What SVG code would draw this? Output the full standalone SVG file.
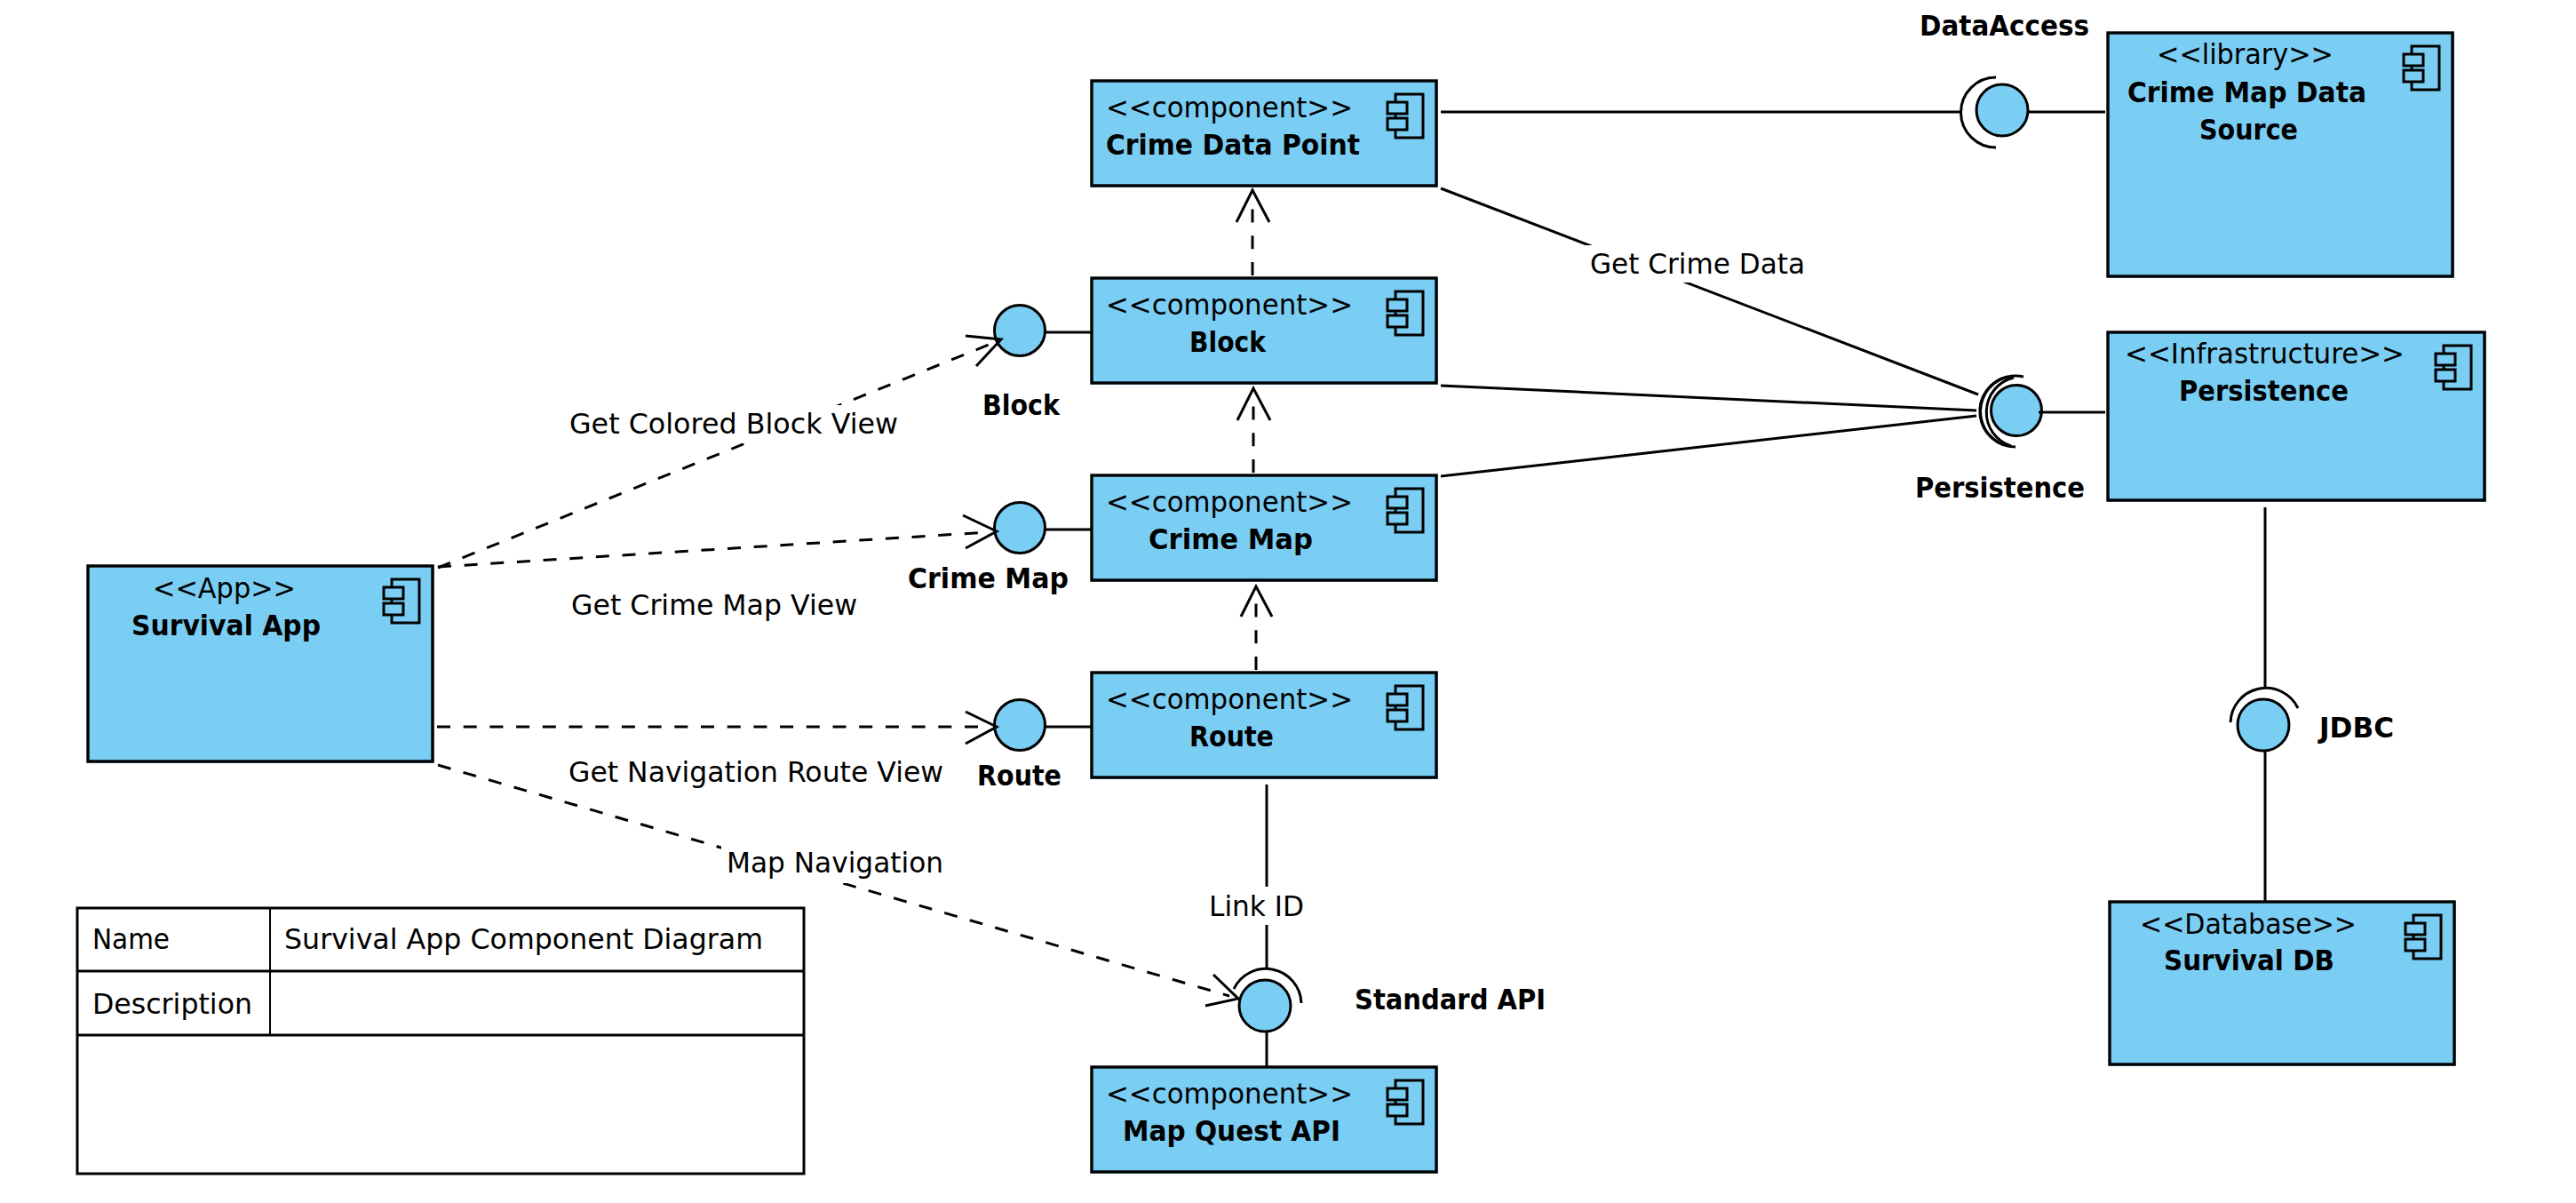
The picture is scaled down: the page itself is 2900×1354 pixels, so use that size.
<svg xmlns="http://www.w3.org/2000/svg" xmlns:xlink="http://www.w3.org/1999/xlink" width="2900" height="1354" viewBox="0 0 2900 1354">
<style>
text{font-family:"DejaVu Sans","Liberation Sans",sans-serif;font-size:32px;fill:#000}
.t{font-weight:bold;font-size:32px}
.f{fill:#7ACEF4;stroke:none}
.b{fill:none;stroke:#000;stroke-width:3.4}
.i{fill:#7ACEF4;stroke:#000;stroke-width:3}
.l{fill:none;stroke:#000;stroke-width:3}
.d{fill:none;stroke:#000;stroke-width:3;stroke-dasharray:15 14.7}
.w{fill:#fff;stroke:none}
</style>
<defs>
<g id="icon"><rect class="i" x="9" y="0" width="31" height="49"/><rect class="i" x="0" y="9" width="22" height="13"/><rect class="i" x="0" y="27" width="22" height="13"/></g>
</defs>
<rect width="2900" height="1354" fill="#fff"/>
<g id="survival-app">
<rect class="f" x="98" y="636" width="391" height="223"/><rect class="b" x="99" y="637" width="388" height="220"/>
<use xlink:href="#icon" href="#icon" x="432" y="652"/>
<text x="172" y="673" textLength="161" lengthAdjust="spacingAndGlyphs">&lt;&lt;App&gt;&gt;</text>
<text class="t" x="148" y="715" textLength="213" lengthAdjust="spacingAndGlyphs">Survival App</text>
</g>
<g id="crime-data-point">
<rect class="f" x="1228" y="90" width="391" height="121"/><rect class="b" x="1229" y="91" width="388" height="118"/>
<use xlink:href="#icon" href="#icon" x="1562" y="106"/>
<text x="1245" y="132" textLength="278" lengthAdjust="spacingAndGlyphs">&lt;&lt;component&gt;&gt;</text>
<text class="t" x="1245" y="174" textLength="286" lengthAdjust="spacingAndGlyphs">Crime Data Point</text>
</g>
<g id="block">
<rect class="f" x="1228" y="312" width="391" height="121"/><rect class="b" x="1229" y="313" width="388" height="118"/>
<use xlink:href="#icon" href="#icon" x="1562" y="328"/>
<text x="1245" y="354" textLength="278" lengthAdjust="spacingAndGlyphs">&lt;&lt;component&gt;&gt;</text>
<text class="t" x="1339" y="396" textLength="86" lengthAdjust="spacingAndGlyphs">Block</text>
</g>
<g id="crime-map">
<rect class="f" x="1228" y="534" width="391" height="121"/><rect class="b" x="1229" y="535" width="388" height="118"/>
<use xlink:href="#icon" href="#icon" x="1562" y="550"/>
<text x="1245" y="576" textLength="278" lengthAdjust="spacingAndGlyphs">&lt;&lt;component&gt;&gt;</text>
<text class="t" x="1293" y="618" textLength="185" lengthAdjust="spacingAndGlyphs">Crime Map</text>
</g>
<g id="route">
<rect class="f" x="1228" y="756" width="391" height="121"/><rect class="b" x="1229" y="757" width="388" height="118"/>
<use xlink:href="#icon" href="#icon" x="1562" y="772"/>
<text x="1245" y="798" textLength="278" lengthAdjust="spacingAndGlyphs">&lt;&lt;component&gt;&gt;</text>
<text class="t" x="1339" y="840" textLength="95" lengthAdjust="spacingAndGlyphs">Route</text>
</g>
<g id="map-quest-api">
<rect class="f" x="1228" y="1200" width="391" height="121"/><rect class="b" x="1229" y="1201" width="388" height="118"/>
<use xlink:href="#icon" href="#icon" x="1562" y="1216"/>
<text x="1245" y="1242" textLength="278" lengthAdjust="spacingAndGlyphs">&lt;&lt;component&gt;&gt;</text>
<text class="t" x="1264" y="1284" textLength="245" lengthAdjust="spacingAndGlyphs">Map Quest API</text>
</g>
<g id="crime-map-data-source">
<rect class="f" x="2372" y="36" width="391" height="277"/><rect class="b" x="2373" y="37" width="388" height="274"/>
<use xlink:href="#icon" href="#icon" x="2706" y="52"/>
<text x="2428" y="72" textLength="199" lengthAdjust="spacingAndGlyphs">&lt;&lt;library&gt;&gt;</text>
<text class="t" x="2395" y="115" textLength="269" lengthAdjust="spacingAndGlyphs">Crime Map Data</text>
<text class="t" x="2476" y="157" textLength="111" lengthAdjust="spacingAndGlyphs">Source</text>
</g>
<g id="persistence">
<rect class="f" x="2372" y="373" width="427" height="192"/><rect class="b" x="2373" y="374" width="424" height="189"/>
<use xlink:href="#icon" href="#icon" x="2742" y="389"/>
<text x="2392" y="409" textLength="315" lengthAdjust="spacingAndGlyphs">&lt;&lt;Infrastructure&gt;&gt;</text>
<text class="t" x="2453" y="451" textLength="191" lengthAdjust="spacingAndGlyphs">Persistence</text>
</g>
<g id="survival-db">
<rect class="f" x="2374" y="1014" width="391" height="186"/><rect class="b" x="2375" y="1015" width="388" height="183"/>
<use xlink:href="#icon" href="#icon" x="2708" y="1030"/>
<text x="2409" y="1051" textLength="244" lengthAdjust="spacingAndGlyphs">&lt;&lt;Database&gt;&gt;</text>
<text class="t" x="2436" y="1092" textLength="192" lengthAdjust="spacingAndGlyphs">Survival DB</text>
</g>
<g id="if-dataaccess">
<path class="l" d="M2247 87A39.5 39.5 0 0 0 2247 166"/>
<circle class="i" cx="2254" cy="124" r="29"/>
<text class="t" x="2161" y="40" textLength="191" lengthAdjust="spacingAndGlyphs">DataAccess</text>
</g>
<g id="if-persistence">
<path class="l" d="M2278 424A40 40 0 0 0 2250 498"/>
<path class="l" d="M2267 425A40 40 0 0 0 2264 502"/>
<path class="l" d="M2260 424A40 40 0 0 0 2269 503"/>
<circle class="i" cx="2270" cy="462" r="28.5"/>
<text class="t" x="2156" y="560" textLength="191" lengthAdjust="spacingAndGlyphs">Persistence</text>
</g>
<g id="if-jdbc">
<path class="l" d="M2511 813A40 40 0 0 1 2587 797"/>
<circle class="i" cx="2548" cy="816" r="29"/>
<text class="t" x="2611" y="830" textLength="84" lengthAdjust="spacingAndGlyphs">JDBC</text>
</g>
<g id="if-standard-api">
<path class="l" d="M1389 1113A40 40 0 0 1 1465 1129"/>
<circle class="i" cx="1424" cy="1132" r="29"/>
<text class="t" x="1525" y="1136" textLength="215" lengthAdjust="spacingAndGlyphs">Standard API</text>
</g>
<g id="if-block">
<circle class="i" cx="1148" cy="372" r="28.5"/>
<text class="t" x="1106" y="467" textLength="87" lengthAdjust="spacingAndGlyphs">Block</text>
</g>
<g id="if-crime-map">
<circle class="i" cx="1148" cy="594" r="28.5"/>
<text class="t" x="1022" y="662" textLength="181" lengthAdjust="spacingAndGlyphs">Crime Map</text>
</g>
<g id="if-route">
<circle class="i" cx="1148" cy="816" r="28.5"/>
<text class="t" x="1100" y="884" textLength="95" lengthAdjust="spacingAndGlyphs">Route</text>
</g>
<g id="info-table">
<rect class="l" x="87" y="1022" width="818" height="299"/>
<line class="l" x1="87" y1="1093" x2="905" y2="1093"/>
<line class="l" x1="87" y1="1165" x2="905" y2="1165"/>
<line class="l" style="stroke-width:2" x1="304" y1="1022" x2="304" y2="1165"/>
<text x="104" y="1068" textLength="87" lengthAdjust="spacingAndGlyphs">Name</text>
<text x="320" y="1068" textLength="539" lengthAdjust="spacingAndGlyphs">Survival App Component Diagram</text>
<text x="104" y="1141" textLength="180" lengthAdjust="spacingAndGlyphs">Description</text>
</g>
<g id="connectors">
<line class="l" x1="1622" y1="126" x2="2209" y2="126"/>
<line class="l" x1="2283" y1="126" x2="2370" y2="126"/>
<line class="l" x1="1622" y1="212" x2="2227" y2="444"/>
<line class="l" x1="1622" y1="434" x2="2225" y2="462"/>
<line class="l" x1="1622" y1="536" x2="2225" y2="468"/>
<line class="l" x1="2295" y1="464" x2="2370" y2="464"/>
<line class="l" x1="2550" y1="571" x2="2550" y2="774"/>
<line class="l" x1="2550" y1="845" x2="2550" y2="1015"/>
<line class="l" x1="1426" y1="883" x2="1426" y2="1090"/>
<line class="l" x1="1426" y1="1161" x2="1426" y2="1201"/>
<line class="l" x1="1177" y1="374" x2="1229" y2="374"/>
<line class="l" x1="1177" y1="596" x2="1229" y2="596"/>
<line class="l" x1="1177" y1="818" x2="1229" y2="818"/>
<line class="d" x1="1410" y1="310" x2="1410" y2="228"/>
<path class="l" d="M1392 250L1410 214L1429 250"/>
<line class="d" x1="1411" y1="532" x2="1411" y2="451"/>
<path class="l" d="M1393 473L1411 437L1430 473"/>
<line class="d" x1="1414" y1="754" x2="1414" y2="674"/>
<path class="l" d="M1397 694L1414 660L1432 694"/>
<line class="d" x1="493" y1="639" x2="1118" y2="386"/>
<path class="l" d="M1087 378L1127 382L1099 412"/>
<line class="d" x1="493" y1="638" x2="1112" y2="599"/>
<path class="l" d="M1084 580L1122 598L1087 617"/>
<line class="d" x1="492" y1="818" x2="1112" y2="818"/>
<path class="l" d="M1087 801L1122 818L1087 837"/>
<line class="d" x1="493" y1="861" x2="1384" y2="1121"/>
<path class="l" d="M1366 1097L1394 1124L1357 1132"/>
<rect class="w" x="635" y="456" width="382" height="43"/>
<text x="641" y="488" textLength="370" lengthAdjust="spacingAndGlyphs">Get Colored Block View</text>
<rect class="w" x="1785" y="276" width="252" height="42"/>
<text x="1790" y="308" textLength="242" lengthAdjust="spacingAndGlyphs">Get Crime Data</text>
<rect class="w" x="812" y="950" width="256" height="44"/>
<text x="818" y="982" textLength="244" lengthAdjust="spacingAndGlyphs">Map Navigation</text>
<rect class="w" x="1355" y="998" width="120" height="43"/>
<text x="1361" y="1031" textLength="107" lengthAdjust="spacingAndGlyphs">Link ID</text>
<text x="643" y="692" textLength="322" lengthAdjust="spacingAndGlyphs">Get Crime Map View</text>
<text x="640" y="880" textLength="422" lengthAdjust="spacingAndGlyphs">Get Navigation Route View</text>
</g>
</svg>
